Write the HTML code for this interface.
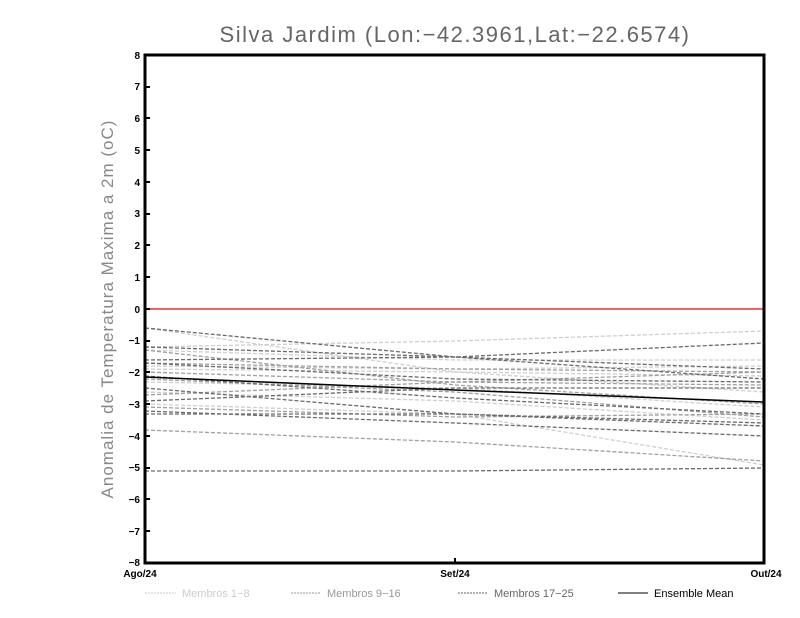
<!DOCTYPE html>
<html><head><meta charset="utf-8"><style>body{margin:0;background:#fff}svg{display:block}</style></head><body>
<svg width="800" height="618" xmlns="http://www.w3.org/2000/svg" font-family="Liberation Sans, sans-serif">
<rect width="800" height="618" fill="#fff"/>
<text x="455" y="42" text-anchor="middle" font-size="22" fill="#666" letter-spacing="1.5">Silva Jardim (Lon:−42.3961,Lat:−22.6574)</text>
<text transform="translate(113,309) rotate(-90)" text-anchor="middle" font-size="17" fill="#888" letter-spacing="1">Anomalia de Temperatura Maxima a 2m (oC)</text>
<g fill="none" stroke-width="1.3" stroke-dasharray="4,2">
<g stroke="#cfcfcf">
<polyline points="145,347 455,341 764,331"/>
<polyline points="145,328 455,372 764,392"/>
<polyline points="145,350 455,360 764,360"/>
<polyline points="145,366 455,369 764,366"/>
<polyline points="145,369 455,372 764,376"/>
<polyline points="145,382 455,388 764,407"/>
<polyline points="145,392 455,401 764,420"/>
<polyline points="145,404 455,414 764,465"/>
</g>
<g stroke="#a0a0a0">
<polyline points="145,363 455,369 764,372"/>
<polyline points="145,372 455,382 764,385"/>
<polyline points="145,379 455,392 764,417"/>
<polyline points="145,350 455,385 764,404"/>
<polyline points="145,407 455,417 764,414"/>
<polyline points="145,430 455,442 764,461"/>
<polyline points="145,395 455,382 764,372"/>
</g>
<g stroke="#6a6a6a">
<polyline points="145,328 455,357 764,379"/>
<polyline points="145,360 455,357 764,343"/>
<polyline points="145,347 455,357 764,369"/>
<polyline points="145,363 455,379 764,382"/>
<polyline points="145,376 455,398 764,414"/>
<polyline points="145,401 455,388 764,388"/>
<polyline points="145,411 455,423 764,436"/>
<polyline points="145,414 455,414 764,423"/>
<polyline points="145,388 455,414 764,426"/>
<polyline points="145,471 455,471 764,468"/>
</g>
</g>
<polyline points="145,377 455,390 764,402" fill="none" stroke="#000" stroke-width="1.5"/>
<line x1="145" y1="309" x2="764" y2="309" stroke="#f03030" stroke-width="1.5"/>
<rect x="145" y="55" width="619" height="508" fill="none" stroke="#000" stroke-width="3"/>
<g font-size="10" font-weight="bold" text-anchor="end" fill="#000">
<text x="140" y="59">8</text><text x="140" y="90">7</text><text x="140" y="122">6</text><text x="140" y="154">5</text><text x="140" y="186">4</text><text x="140" y="217">3</text><text x="140" y="249">2</text><text x="140" y="281">1</text><text x="140" y="313">0</text><text x="140" y="344">−1</text><text x="140" y="376">−2</text><text x="140" y="408">−3</text><text x="140" y="440">−4</text><text x="140" y="471">−5</text><text x="140" y="503">−6</text><text x="140" y="535">−7</text><text x="140" y="566">−8</text>
</g>
<g stroke="#000" stroke-width="2">
<path d="M145,87h5M145,118h5M145,150h5M145,182h5M145,214h5M145,245h5M145,277h5M145,309h5M145,341h5M145,372h5M145,404h5M145,436h5M145,468h5M145,499h5M145,531h5"/>
<path d="M455,563v-5"/>
</g>
<g font-size="10" font-weight="bold" text-anchor="middle">
<text x="140" y="577">Ago/24</text><text x="455" y="577">Set/24</text><text x="766" y="577">Out/24</text>
</g>
<g font-size="11">
<line x1="145" y1="593" x2="176" y2="593" stroke="#ccc" stroke-dasharray="2,1"/><text x="182" y="597" fill="#ccc">Membros 1−8</text>
<line x1="291" y1="593" x2="321" y2="593" stroke="#999" stroke-dasharray="2,1"/><text x="327" y="597" fill="#999">Membros 9−16</text>
<line x1="458" y1="593" x2="488" y2="593" stroke="#666" stroke-dasharray="2,1"/><text x="494" y="597" fill="#666">Membros 17−25</text>
<line x1="618" y1="593" x2="648" y2="593" stroke="#000"/><text x="654" y="597" fill="#000">Ensemble Mean</text>
</g>
</svg>
</body></html>
